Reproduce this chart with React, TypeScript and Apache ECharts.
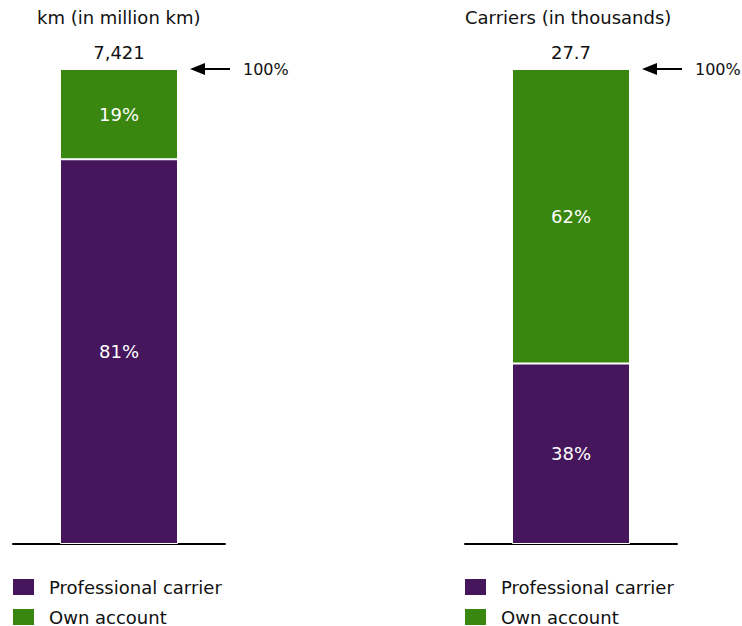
import React, { useEffect, useRef } from "react";
import * as echarts from "echarts";

const panelTitles = ["km (in million km)", "Carriers (in thousands)"];
const panelTotals = ["7,421", "27.7"];
const seriesNames = ["Professional carrier", "Own account"];
const professionalShare = [81, 38];
const ownAccountShare = [19, 62];
const topLabel = "100%";

const PURPLE = "#45165c";
const GREEN = "#3a870f";
const FONT = "DejaVu Sans, Verdana, sans-serif";

export default function App() {
  const ref = useRef<HTMLDivElement>(null);
  useEffect(() => {
    if (!ref.current) return;
    const chart = echarts.init(ref.current, null, { renderer: "svg" });
    const gridLefts = [13, 465];
    const gridTop = 69;
    const gridHeight = 475;
    const gridWidth = 212;

    const grids = gridLefts.map((l) => ({ left: l, top: gridTop, width: gridWidth, height: gridHeight }));
    const xAxes = gridLefts.map((_, i) => ({
      type: "category",
      gridIndex: i,
      data: [panelTitles[i]],
      axisLine: { show: true, lineStyle: { color: "#000", width: 2 } },
      axisTick: { show: false },
      axisLabel: { show: false },
    }));
    const yAxes = gridLefts.map((_, i) => ({
      type: "value",
      gridIndex: i,
      min: 0,
      max: 100,
      show: false,
      splitLine: { show: false },
    }));

    const insideLabel = { show: true, position: "inside", color: "#fff", fontSize: 18, fontFamily: FONT, formatter: "{c}%" };
    const series: any[] = [];
    gridLefts.forEach((_, i) => {
      const stack = "s" + i;
      series.push({
        type: "bar",
        name: seriesNames[0],
        xAxisIndex: i,
        yAxisIndex: i,
        stack,
        barWidth: 118,
        data: [professionalShare[i]],
        itemStyle: { color: PURPLE, borderColor: "#fff", borderWidth: 1 },
        label: insideLabel,
      });
      series.push({
        type: "bar",
        name: seriesNames[1],
        xAxisIndex: i,
        yAxisIndex: i,
        stack,
        barWidth: 118,
        data: [ownAccountShare[i]],
        itemStyle: { color: GREEN, borderColor: "#fff", borderWidth: 1 },
        label: insideLabel,
      });
      series.push({
        type: "bar",
        name: "total" + i,
        xAxisIndex: i,
        yAxisIndex: i,
        stack,
        barWidth: 118,
        data: [0],
        itemStyle: { color: "transparent" },
        label: {
          show: true,
          position: "top",
          distance: 8,
          color: "#111",
          fontSize: 18,
          fontFamily: FONT,
          formatter: () => panelTotals[i],
        },
      });
    });

    const graphics: any[] = [];
    gridLefts.forEach((l) => {
      const barRight = l + gridWidth / 2 + 58;
      const tipX = barRight + 13;
      graphics.push({
        type: "polygon",
        shape: { points: [[tipX, gridTop], [tipX + 15, gridTop - 6], [tipX + 15, gridTop + 6]] },
        style: { fill: "#000" },
      });
      graphics.push({
        type: "line",
        shape: { x1: tipX + 14, y1: gridTop, x2: tipX + 40, y2: gridTop },
        style: { stroke: "#000", lineWidth: 2 },
      });
      graphics.push({
        type: "text",
        x: tipX + 53,
        y: gridTop,
        style: { text: topLabel, fill: "#111", font: `16px ${FONT}`, textVerticalAlign: "middle" },
      });
    });

    const legends: any[] = [];
    gridLefts.forEach((l) => {
      seriesNames.forEach((name, k) => {
        legends.push({
          orient: "vertical",
          left: l - 2,
          top: 577 + k * 30,
          padding: 0,
          itemWidth: 23,
          itemHeight: 18,
          icon: "rect",
          data: [name],
          textStyle: { fontSize: 18, color: "#111", fontFamily: FONT, padding: [0, 0, 0, 9] },
        });
      });
    });

    chart.setOption({
      animation: false,
      backgroundColor: "#fff",
      title: [
        { text: panelTitles[0], left: 37, top: 8, padding: 0, textStyle: { fontSize: 18, fontWeight: "normal", color: "#111", fontFamily: FONT } },
        { text: panelTitles[1], left: 465, top: 8, padding: 0, textStyle: { fontSize: 18, fontWeight: "normal", color: "#111", fontFamily: FONT } },
      ],
      grid: grids,
      xAxis: xAxes,
      yAxis: yAxes,
      legend: legends,
      graphic: graphics,
      series,
    });
    return () => chart.dispose();
  }, []);
  return <div ref={ref} style={{ position: "absolute", left: 0, top: 0, width: 742, height: 626 }} />;
}
